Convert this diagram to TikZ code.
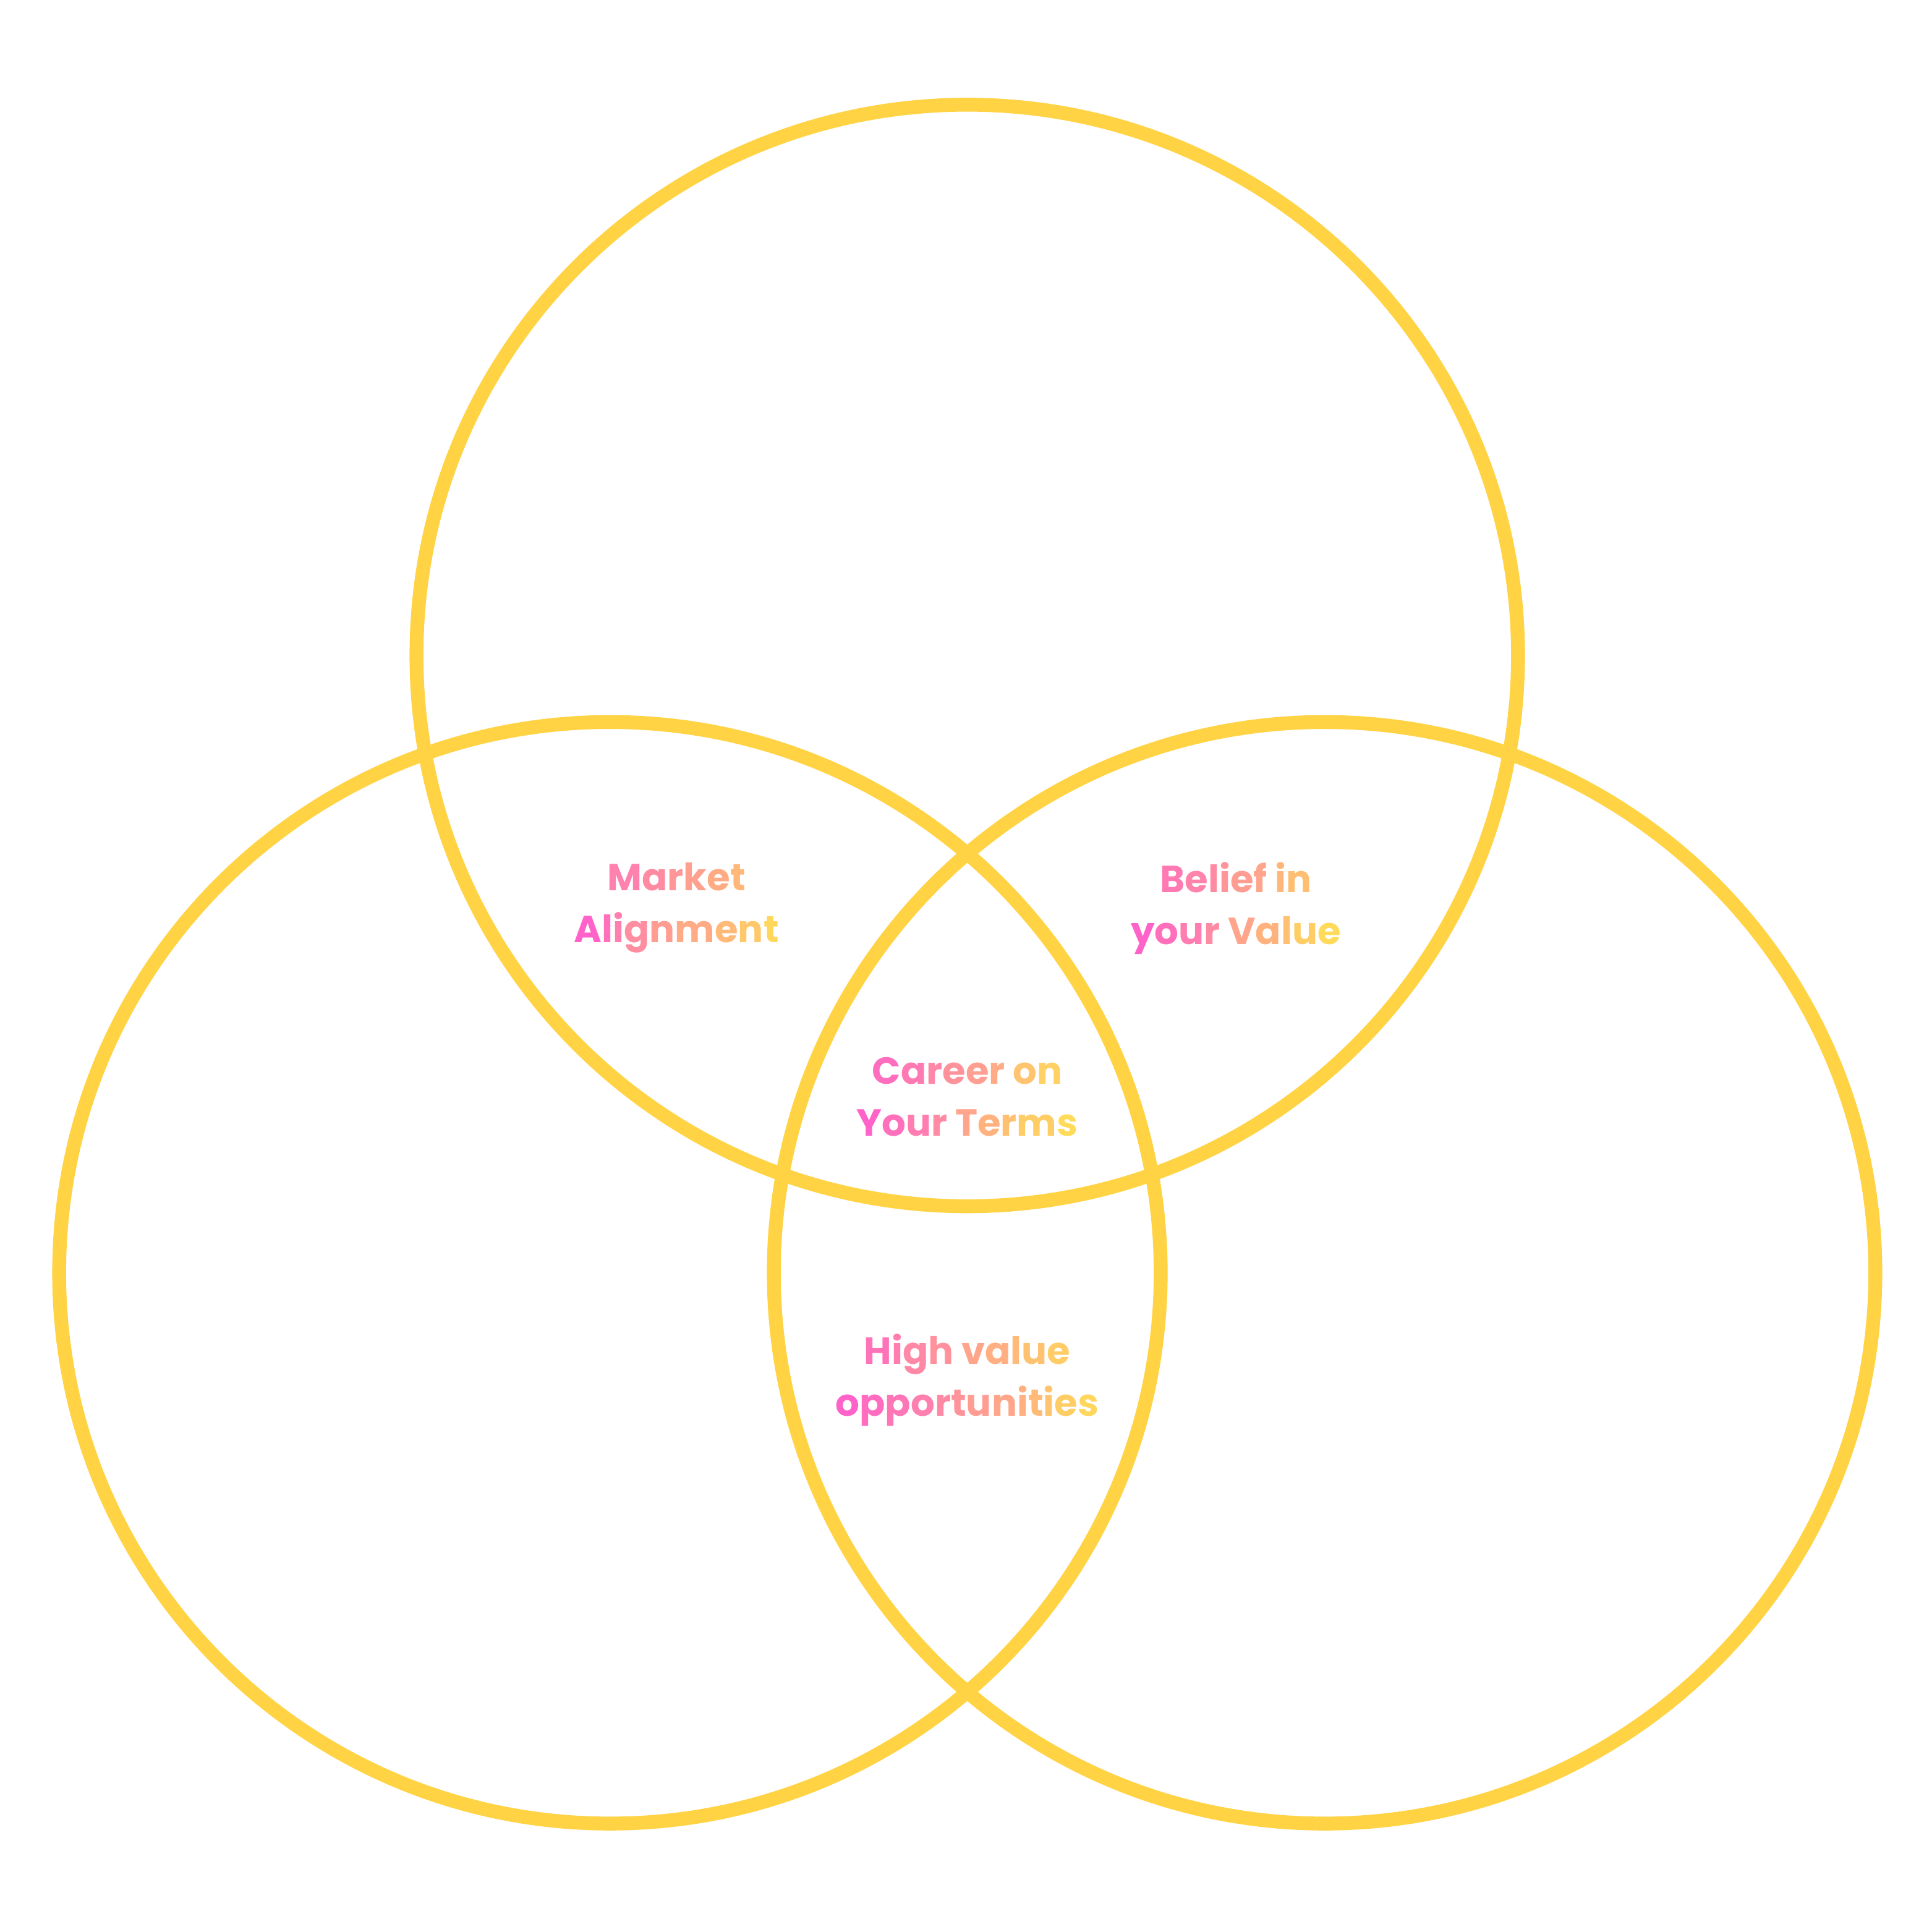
\documentclass[tikz,border=0pt]{standalone}
\usepackage{fontspec}
\setmainfont{Poppins}
\usepackage{xcolor}
\usepackage{tikz}
\usetikzlibrary{positioning}

\definecolor{ringyellow}{HTML}{FFD344}
\definecolor{gpnk}{HTML}{FF62C9}
\definecolor{gyel}{HTML}{FFDC58}

% letter by letter colour ramp, ~ stands for a space
\newcount\gpos
\newcount\gstep
\def\gradword#1#2#3{\gpos=#1\relax\gstep=#2\relax\gradnext#3\gradend}
\def\gradnext#1{\ifx#1\gradend\else\textcolor{gyel!\the\gpos!gpnk}{#1}\advance\gpos by\gstep\relax\expandafter\gradnext\fi}

\begin{document}
\begin{tikzpicture}[
    ring/.style = {circle, draw=ringyellow, line width=3.2pt, minimum size=8.94cm, inner sep=0pt},
    label/.style = {align=center, font=\bfseries\fontsize{8.7}{12}\selectfont, inner sep=0pt}
]
    \useasboundingbox (0,0) rectangle (15.68,15.68);

    \node [ring] (top) at (7.85,10.36) {};
    \node [ring] (left) at (4.95,5.35) {};
    \node [ring] (right) at (10.75,5.35) {};

    \node [label] (market) at (5.49,8.31) {\gradword{25}{9}{Market}\\\gradword{0}{12}{Alignment}};
    \node [label] (belief) at (10.03,8.31) {\gradword{20}{7}{Belief~in}\\\gradword{0}{11}{your~Value}};
    \node [label] (career) at (7.85,6.78) {\gradword{10}{10}{Career~on}\\\gradword{0}{11}{Your~Terms}};
    \node [label] (highvalue) at (7.85,4.48) {\gradword{15}{8}{High~value}\\\gradword{0}{8}{opportunities}};
\end{tikzpicture}
\end{document}
